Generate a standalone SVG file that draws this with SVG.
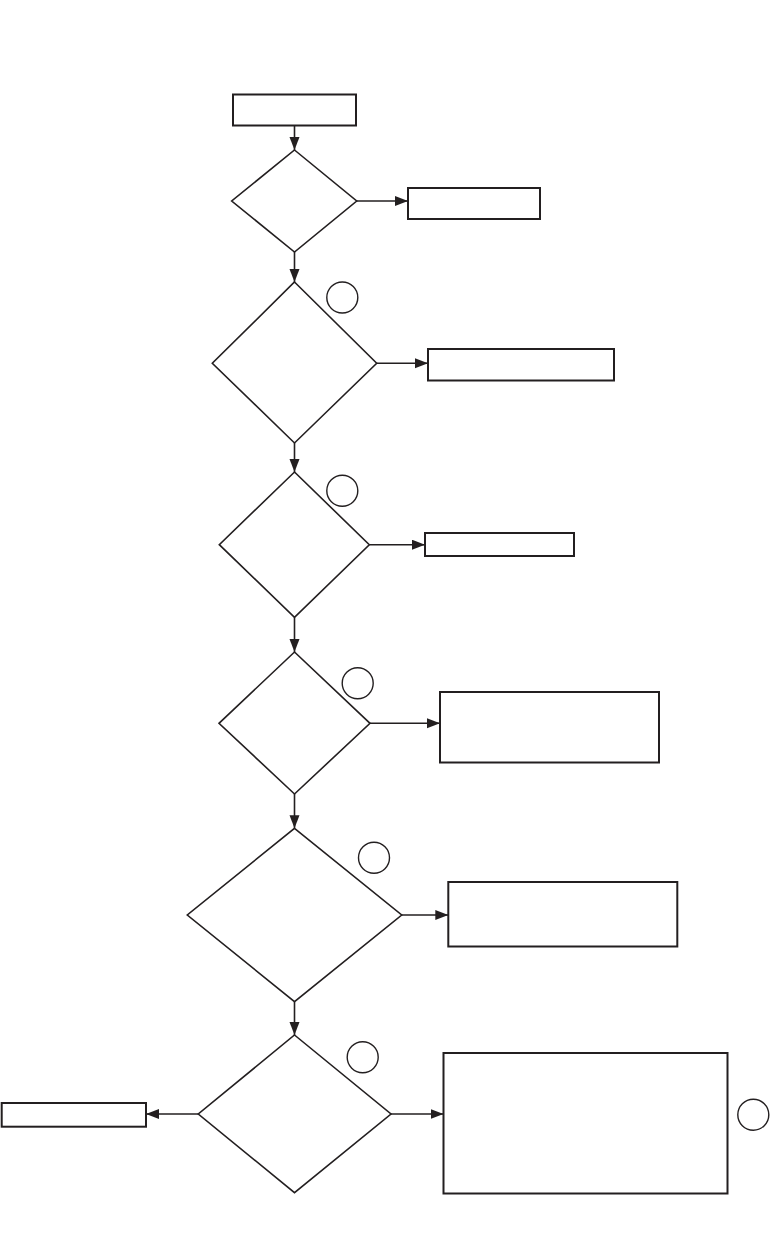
<svg xmlns="http://www.w3.org/2000/svg" width="770" height="1247" viewBox="0 0 770 1247">
<style>
.box{fill:#fff;stroke:#231f20;stroke-width:2}
.dia{fill:#fff;stroke:#231f20;stroke-width:1.6}
.circ{fill:none;stroke:#231f20;stroke-width:1.4}
.conn{fill:none;stroke:#231f20;stroke-width:1.6}
</style>
<defs>
<marker id="ah" markerUnits="userSpaceOnUse" markerWidth="14" markerHeight="12" refX="13" refY="5" orient="auto">
<path d="M0,0 L13,5 L0,10 Z" fill="#231f20"/>
</marker>
</defs>
<rect width="770" height="1247" fill="#fff"/>
<g id="connectors">
<line class="conn" x1="294.5" y1="126" x2="294.5" y2="150" marker-end="url(#ah)"/>
<line class="conn" x1="356.7" y1="201" x2="408" y2="201" marker-end="url(#ah)"/>
<line class="conn" x1="294.5" y1="252" x2="294.5" y2="282" marker-end="url(#ah)"/>
<line class="conn" x1="376.7" y1="363.3" x2="428" y2="363.3" marker-end="url(#ah)"/>
<line class="conn" x1="294.5" y1="443" x2="294.5" y2="472" marker-end="url(#ah)"/>
<line class="conn" x1="369.3" y1="544.7" x2="425" y2="544.7" marker-end="url(#ah)"/>
<line class="conn" x1="294.5" y1="617.3" x2="294.5" y2="652" marker-end="url(#ah)"/>
<line class="conn" x1="370" y1="723.3" x2="440" y2="723.3" marker-end="url(#ah)"/>
<line class="conn" x1="294.5" y1="794" x2="294.5" y2="828.3" marker-end="url(#ah)"/>
<line class="conn" x1="401.7" y1="915" x2="448.3" y2="915" marker-end="url(#ah)"/>
<line class="conn" x1="294.5" y1="1001.7" x2="294.5" y2="1035" marker-end="url(#ah)"/>
<line class="conn" x1="198.3" y1="1114" x2="146" y2="1114" marker-end="url(#ah)"/>
<line class="conn" x1="391" y1="1114" x2="443.5" y2="1114" marker-end="url(#ah)"/>
</g>
<g id="start"><rect class="box" x="233" y="94.5" width="123" height="31"/></g>
<g id="d1"><polygon class="dia" points="294.5,150 356.7,201 294.5,252 231.7,201"/></g>
<g id="b1"><rect class="box" x="408" y="188" width="132" height="31"/></g>
<g id="d2"><polygon class="dia" points="294.5,282 376.7,363.3 294.5,443 212.3,363.3"/><circle class="circ" cx="342.3" cy="297.5" r="15.5"/></g>
<g id="b2"><rect class="box" x="428" y="349" width="186" height="31.5"/></g>
<g id="d3"><polygon class="dia" points="294.5,472 369.3,544.7 294.5,617.3 219.3,544.7"/><circle class="circ" cx="342.3" cy="490.7" r="15.5"/></g>
<g id="b3"><rect class="box" x="425" y="533" width="149" height="23"/></g>
<g id="d4"><polygon class="dia" points="294.5,652 370,723.3 294.5,794 219,723.3"/><circle class="circ" cx="357.7" cy="683.3" r="15.5"/></g>
<g id="b4"><rect class="box" x="440" y="692" width="219" height="70.5"/></g>
<g id="d5"><polygon class="dia" points="294.5,828.3 401.7,915 294.5,1001.7 187.3,915"/><circle class="circ" cx="374" cy="857.7" r="15.5"/></g>
<g id="b5"><rect class="box" x="448.3" y="882" width="229" height="64.5"/></g>
<g id="d6"><polygon class="dia" points="294.5,1035 391,1114 294.5,1192.7 198.3,1114"/><circle class="circ" cx="362.7" cy="1057.3" r="15.5"/></g>
<g id="bl"><rect class="box" x="1.7" y="1103" width="144.3" height="23.7"/></g>
<g id="br"><rect class="box" x="443.5" y="1053" width="284" height="140.5"/><circle class="circ" cx="753.3" cy="1114.7" r="15.5"/></g>
</svg>
